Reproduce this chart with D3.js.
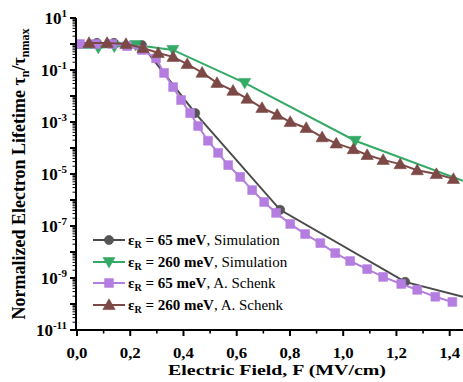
<!DOCTYPE html>
<html><head><meta charset="utf-8">
<script src="https://cdn.jsdelivr.net/npm/d3@7"></script>
<style>
body{margin:0;background:#fff}
</style>
</head><body>
<svg id="chart" width="463" height="382" font-family="Liberation Serif, Times New Roman, Times, DejaVu Serif, serif"></svg>
<script>
// ---------- data ----------
const xTickValues = [0, 0.2, 0.4, 0.6, 0.8, 1.0, 1.2, 1.4];
const xTickLabels = ["0,0", "0,2", "0,4", "0,6", "0,8", "1,0", "1,2", "1,4"];
const yLabelExponents = [1, -1, -3, -5, -7, -9, -11];

// eps_R = 65 meV, Simulation (line + sparse markers)
const sim65Field = [0, 0.075, 0.139, 0.244, 0.444, 0.763, 1.233, 1.45];
const sim65Tau   = [1.1, 1.1, 1.1, 0.91, 2.2e-3, 4.2e-7, 7.1e-10, 1.9e-10];
const sim65Marked = [false, true, true, true, true, true, true, false];

// eps_R = 260 meV, Simulation
const sim260Field = [0, 0.08, 0.14, 0.22, 0.36, 0.63, 1.045, 1.45];
const sim260Tau   = [0.71, 0.71, 0.79, 0.91, 0.59, 0.032, 1.9e-4, 5.5e-6];
const sim260Marked = [false, true, true, true, true, true, true, false];

// eps_R = 65 meV, A. Schenk
const sch65Field = [0.011, 0.071, 0.132, 0.188, 0.244, 0.297, 0.327, 0.361, 0.391, 0.425, 0.455, 0.492, 0.530, 0.568, 0.613, 0.658, 0.703, 0.748, 0.801, 0.857, 0.914, 0.970, 1.026, 1.090, 1.150, 1.218, 1.278, 1.346, 1.410];
const sch65Tau   = [1.0, 1.0, 1.0, 0.83, 0.59, 0.28, 0.077, 0.022, 7.0e-3, 2.2e-3, 7.0e-4, 1.9e-4, 6.5e-5, 2.2e-5, 7.7e-6, 2.4e-6, 8.4e-7, 3.2e-7, 1.2e-7, 4.9e-8, 2.2e-8, 9.1e-9, 4.5e-9, 2.2e-9, 1.1e-9, 5.9e-10, 3.5e-10, 1.9e-10, 1.2e-10];

// eps_R = 260 meV, A. Schenk
const sch260Field = [0.045, 0.113, 0.184, 0.248, 0.305, 0.361, 0.414, 0.470, 0.526, 0.586, 0.639, 0.695, 0.752, 0.801, 0.861, 0.921, 0.974, 1.038, 1.090, 1.150, 1.214, 1.278, 1.350, 1.414];
const sch260Tau   = [1.1, 1.1, 1.0, 0.71, 0.45, 0.32, 0.17, 0.079, 0.032, 0.016, 7.9e-3, 3.5e-3, 1.9e-3, 1.0e-3, 5.9e-4, 2.6e-4, 1.5e-4, 9.1e-5, 5.4e-5, 3.5e-5, 2.4e-5, 1.4e-5, 1.0e-5, 6.5e-6];

const seriesNames = ["65 meV", "260 meV", "65 meV", "260 meV"];
const seriesSources = ["Simulation", "Simulation", "A. Schenk", "A. Schenk"];

// ---------- drawing ----------
const svg = d3.select("#chart");
const x = d3.scaleLinear().domain([0, 1.45]).range([77, 463]);
const y = d3.scaleLog().domain([1e-11, 10]).range([330, 18]);

const styles = [
  {color:"#4b4b4b", fill:"#555555", sym:d3.symbolCircle, size:66, rot:0},
  {color:"#34aa66", fill:"#34aa66", sym:d3.symbolTriangle, size:62, rot:180},
  {color:"#b47de0", fill:"#b47de0", sym:d3.symbolSquare, size:78, rot:0},
  {color:"#7c4946", fill:"#7c4946", sym:d3.symbolTriangle, size:66, rot:0}
];

const series = [
  {f:sim65Field, t:sim65Tau, m:sim65Marked},
  {f:sim260Field, t:sim260Tau, m:sim260Marked},
  {f:sch65Field, t:sch65Tau, m:sch65Field.map(()=>true)},
  {f:sch260Field, t:sch260Tau, m:sch260Field.map(()=>true)}
];

const line = d3.line().x(d=>x(d[0])).y(d=>y(d[1]));
const plot = svg.append("g");
series.forEach((s,i)=>{
  const st = styles[i];
  const pts = s.f.map((f,k)=>[f, s.t[k], s.m[k]]);
  plot.append("path").datum(pts).attr("d", line)
    .attr("fill","none").attr("stroke", st.color).attr("stroke-width", 2);
  plot.selectAll(null).data(pts.filter(p=>p[2])).enter().append("path")
    .attr("d", d3.symbol().type(st.sym).size(st.size))
    .attr("transform", d=>`translate(${x(d[0])},${y(d[1]) + (st.sym===d3.symbolTriangle ? (st.rot ? -1 : 1) : 0)}) rotate(${st.rot})`)
    .attr("fill", st.fill).attr("stroke", st.color).attr("stroke-width", 0.6);
});

// x axis
const xAxis = svg.append("g").attr("transform","translate(0,330)");
xAxis.append("line").attr("x1",76).attr("x2",463).attr("y1",0).attr("y2",0)
  .attr("stroke","#000").attr("stroke-width",2);
const xMinor = d3.range(0.1, 1.45, 0.2);
xAxis.selectAll(".xmin").data(xMinor).enter().append("line")
  .attr("x1",d=>x(d)).attr("x2",d=>x(d)).attr("y1",0).attr("y2",3.5)
  .attr("stroke","#000").attr("stroke-width",1.6);
xAxis.selectAll(".xmaj").data(xTickValues).enter().append("line")
  .attr("x1",d=>x(d)).attr("x2",d=>x(d)).attr("y1",0).attr("y2",6)
  .attr("stroke","#000").attr("stroke-width",2);
xAxis.selectAll(".xlab").data(xTickValues).enter().append("text")
  .attr("x",d=>x(d)).attr("y",27.5).attr("text-anchor","middle")
  .attr("font-size",15).attr("font-weight","bold")
  .attr("textLength",21).attr("lengthAdjust","spacingAndGlyphs")
  .text((d,i)=>xTickLabels[i]);
svg.append("text").attr("x",277).attr("y",375).attr("text-anchor","middle")
  .attr("font-size",15).attr("font-weight","bold")
  .attr("textLength",218).attr("lengthAdjust","spacingAndGlyphs")
  .text("Electric Field, F (MV/cm)");

// y axis
const yAxis = svg.append("g");
yAxis.append("line").attr("x1",76).attr("x2",76).attr("y1",y(10)).attr("y2",331)
  .attr("stroke","#000").attr("stroke-width",2);
const decades = d3.range(-11, 2);
decades.forEach(e=>{
  yAxis.append("line").attr("x1",70).attr("x2",76).attr("y1",y(Math.pow(10,e))).attr("y2",y(Math.pow(10,e)))
    .attr("stroke","#000").attr("stroke-width",2);
  if (e < 1) {
    for (let k=2;k<=9;k++){
      const v = k*Math.pow(10,e);
      yAxis.append("line").attr("x1",72.5).attr("x2",76).attr("y1",y(v)).attr("y2",y(v))
        .attr("stroke","#000").attr("stroke-width",1);
    }
  }
});
yLabelExponents.forEach(e=>{
  const t = yAxis.append("text").attr("x",67).attr("y",y(Math.pow(10,e))+6)
    .attr("text-anchor","end").attr("font-size",17).attr("font-weight","bold");
  t.append("tspan").text("10");
  t.append("tspan").attr("dy",-7).attr("font-size",11).text(String(e));
});

// y title
const yt = svg.append("text").attr("transform","translate(25,174) rotate(-90)")
  .attr("text-anchor","middle").attr("font-size",18).attr("font-weight","bold");
yt.append("tspan").text("Normalized Electron Lifetime τ");
yt.append("tspan").attr("font-size",12).attr("dy",4).text("n");
yt.append("tspan").attr("dy",-4).text("/τ");
yt.append("tspan").attr("font-size",12).attr("dy",4).text("nmax");

// legend
const legendY = [240, 262, 283, 305];
seriesNames.forEach((n,i)=>{
  const st = styles[i];
  const g = svg.append("g").attr("transform",`translate(0,${legendY[i]})`);
  g.append("line").attr("x1",93).attr("x2",125).attr("y1",0).attr("y2",0)
    .attr("stroke",st.color).attr("stroke-width",2);
  g.append("path").attr("d", d3.symbol().type(st.sym).size(st.size))
    .attr("transform",`translate(109,${st.sym===d3.symbolTriangle ? (st.rot? -1:1):0}) rotate(${st.rot})`)
    .attr("fill",st.fill).attr("stroke",st.color).attr("stroke-width",0.6);
  const t = g.append("text").attr("x",128).attr("y",5).attr("font-size",15);
  t.append("tspan").attr("font-weight","bold").text("ε");
  t.append("tspan").attr("font-weight","bold").attr("font-size",10).attr("dy",3).text("R");
  t.append("tspan").attr("font-weight","bold").attr("dy",-3).text(" = " + n);
  t.append("tspan").text(", " + seriesSources[i]);
});
</script>
</body></html>
